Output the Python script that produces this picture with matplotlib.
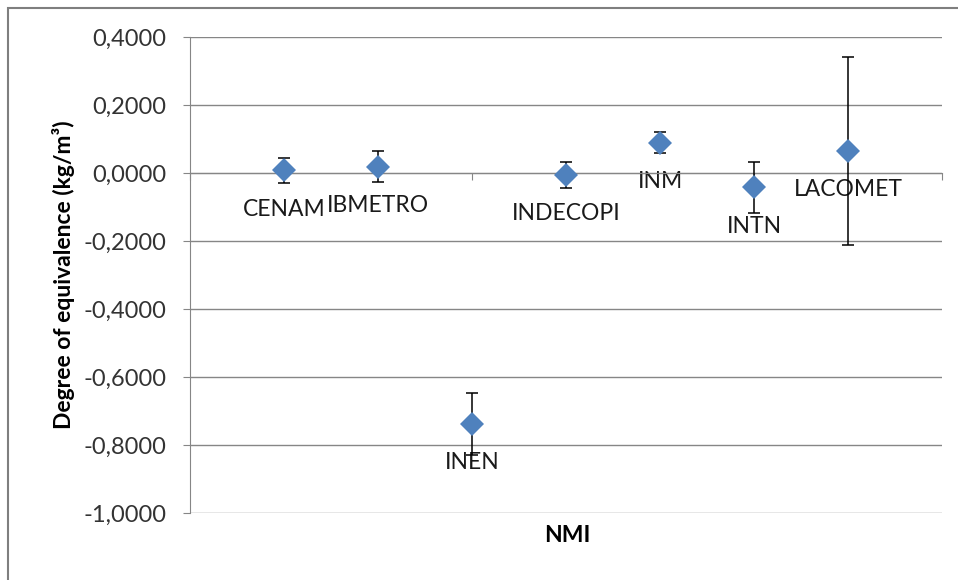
import matplotlib
matplotlib.use('Agg')
import matplotlib.pyplot as plt
from matplotlib.patches import Rectangle
from matplotlib.ticker import FuncFormatter, MultipleLocator

plt.rcParams['font.family'] = ['Lato', 'DejaVu Sans']

# Degrees of equivalence per NMI
labs = ['CENAM', 'IBMETRO', 'INEN', 'INDECOPI', 'INM', 'INTN', 'LACOMET']
xpos = [1, 2, 3, 4, 5, 6, 7]
vals = [0.008, 0.019, -0.738, -0.006, 0.089, -0.042, 0.065]
errs = [0.036, 0.046, 0.091, 0.038, 0.031, 0.075, 0.277]

grey = '#868686'
blue = '#4F81BD'

fig = plt.figure(figsize=(9.58, 5.8), dpi=100)
ax = fig.add_axes([190/958, 1 - 513/580, 752/958, 476/580])

ax.errorbar(xpos, vals, yerr=errs, fmt='none', ecolor='black', elinewidth=1.1,
            capsize=4.5, capthick=1.1, zorder=3)
ax.plot(xpos, vals, 'D', color=blue, markersize=12, markeredgewidth=0, zorder=4)

for x, y, s in zip(xpos, vals, labs):
    ax.annotate(s, (x, y), xytext=(0, -28), textcoords='offset points',
                ha='center', va='center', fontsize=16.5, color='#1a1a1a', zorder=2)

ax.set_xlim(0, 8)
ax.set_ylim(-1.0, 0.4)
ax.yaxis.set_major_locator(MultipleLocator(0.2))
ax.yaxis.set_major_formatter(FuncFormatter(lambda v, p: f'{v:.4f}'.replace('.', ',').replace('-0,0000', '0,0000')))
ax.grid(axis='y', color=grey, linewidth=1)
ax.set_axisbelow(True)

# x axis crosses at zero
ax.spines['bottom'].set_position(('data', 0))
ax.spines['bottom'].set_color(grey)
ax.spines['left'].set_color(grey)
ax.spines['top'].set_visible(False)
ax.spines['right'].set_visible(False)
ax.set_xticks([0, 3, 6, 8])
ax.tick_params(axis='x', length=5, color=grey, labelbottom=False)
ax.tick_params(axis='y', length=5, color=grey, labelsize=17, labelcolor='#333333', pad=12)

ax.set_ylabel('Degree of equivalence (kg/m³)', fontsize=16.5, fontweight='bold', labelpad=6)
fig.text(567/958, 1 - 536/580, 'NMI', fontsize=16.5, fontweight='bold', ha='center', va='center')

# chart area border
fig.patches.append(Rectangle((7.5/958, -0.1), 1.2, 1.1 - 7.5/580, transform=fig.transFigure,
                             fill=False, ec='#7f7f7f', lw=1.5))

fig.savefig('out.png', dpi=100)
